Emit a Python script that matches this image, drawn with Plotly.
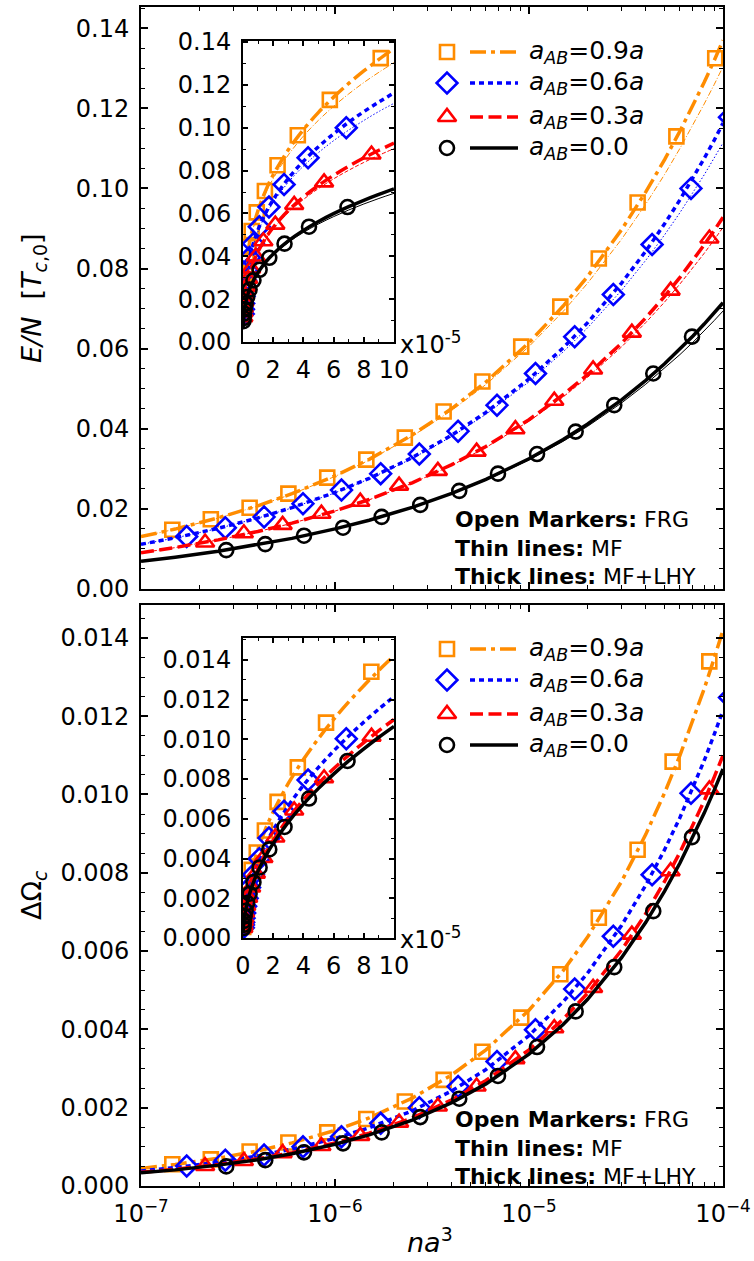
import plotly.graph_objects as go

# ---------------- data ----------------
# x positions (n a^3) of FRG markers
nx_sq = [1.45e-7, 2.29e-7, 3.63e-7, 5.75e-7, 9.12e-7, 1.45e-6, 2.29e-6, 3.63e-6,
         5.75e-6, 9.12e-6, 1.45e-5, 2.29e-5, 3.63e-5, 5.75e-5, 9.12e-5]
nx_sq_b = [1.45e-7, 2.29e-7, 3.63e-7, 5.75e-7, 9.12e-7, 1.45e-6, 2.29e-6, 3.63e-6,
           5.75e-6, 9.12e-6, 1.45e-5, 2.29e-5, 3.63e-5, 5.5e-5, 8.5e-5]
nx_di = [1.72e-7, 2.72e-7, 4.31e-7, 6.84e-7, 1.08e-6, 1.72e-6, 2.72e-6, 4.31e-6,
         6.84e-6, 1.08e-5, 1.72e-5, 2.72e-5, 4.31e-5, 6.84e-5, 1.08e-4]
nx_tr = [2.14e-7, 3.39e-7, 5.37e-7, 8.51e-7, 1.35e-6, 2.14e-6, 3.39e-6, 5.37e-6,
         8.51e-6, 1.35e-5, 2.14e-5, 3.39e-5, 5.37e-5, 8.51e-5]
nx_ci = [2.75e-7, 4.37e-7, 6.92e-7, 1.10e-6, 1.74e-6, 2.75e-6, 4.37e-6, 6.92e-6,
         1.10e-5, 1.74e-5, 2.75e-5, 4.37e-5, 6.92e-5]

# E/N FRG markers
E_frg_09 = [0.0148, 0.0174, 0.0203, 0.0238, 0.0278, 0.0323, 0.0378, 0.0443, 0.0518,
            0.0605, 0.0705, 0.0825, 0.0965, 0.113, 0.1325]
E_frg_06 = [0.0131, 0.0153, 0.018, 0.0213, 0.0247, 0.0288, 0.0337, 0.0394, 0.0459,
            0.0538, 0.063, 0.0735, 0.086, 0.100, 0.1178]
E_frg_03 = [0.0116, 0.0139, 0.016, 0.0188, 0.0218, 0.0258, 0.0295, 0.0343, 0.0399,
            0.047, 0.0548, 0.064, 0.0745, 0.0875]
E_frg_00 = [0.0097, 0.0112, 0.0133, 0.0153, 0.018, 0.021, 0.0245, 0.0288, 0.0337,
            0.0393, 0.0459, 0.0538, 0.063]

# Delta Omega_c FRG markers
W_frg_09 = [0.000555, 0.00068, 0.00088, 0.00111, 0.00137, 0.00171, 0.00216, 0.00271,
            0.00343, 0.00430, 0.00541, 0.00685, 0.00859, 0.01084, 0.0134]
W_frg_06 = [0.00051, 0.00066, 0.00079, 0.00100, 0.00126, 0.0016, 0.0020, 0.00254,
            0.00318, 0.00399, 0.00503, 0.00638, 0.00795, 0.01003, 0.01248]
W_frg_03 = [0.00051, 0.00064, 0.00084, 0.00102, 0.00128, 0.00162, 0.00203, 0.00254,
            0.00324, 0.00403, 0.00506, 0.00642, 0.00804, 0.01013]
W_frg_00 = [0.00050, 0.00066, 0.00086, 0.00109, 0.00137, 0.00176, 0.00223, 0.00281,
            0.00355, 0.00446, 0.00559, 0.00702, 0.00891]

# curves (MF thin, MF+LHY thick)
nx_line = [1e-7, 1.5e-7, 2.5e-7, 4e-7, 6e-7, 1e-6, 1.5e-6, 2.5e-6, 4e-6, 6e-6, 1e-5,
           1.5e-5, 2e-5, 3e-5, 4e-5, 5e-5, 6e-5, 7e-5, 8e-5, 9e-5, 1e-4]
E_mf_09 = [0.01304, 0.01493, 0.01770, 0.02070, 0.02370, 0.02810, 0.03217, 0.03814, 0.04461,
           0.05106, 0.06054, 0.06930, 0.07628, 0.08731, 0.09610, 0.1035, 0.1100, 0.1158,
           0.1211, 0.1259, 0.1304]
E_lhy_09 = [0.01307, 0.01496, 0.01775, 0.02077, 0.02379, 0.02824, 0.03236, 0.03844, 0.04505,
            0.05169, 0.06150, 0.07064, 0.07798, 0.08970, 0.09914, 0.1072, 0.1143, 0.1207,
            0.1265, 0.1319, 0.1370]
E_mf_06 = [0.01114, 0.01275, 0.01512, 0.01768, 0.02024, 0.02400, 0.02747, 0.03257, 0.03810,
           0.04361, 0.05171, 0.05919, 0.06515, 0.07457, 0.08208, 0.08842, 0.09396, 0.09891,
           0.1034, 0.1076, 0.1114]
E_lhy_06 = [0.01116, 0.01277, 0.01515, 0.01773, 0.02031, 0.02411, 0.02762, 0.03280, 0.03843,
            0.04408, 0.05243, 0.06020, 0.06643, 0.07637, 0.08436, 0.09117, 0.09716, 0.1026,
            0.1075, 0.1120, 0.1163]
E_mf_03 = [0.00903, 0.01033, 0.01225, 0.01433, 0.01640, 0.01945, 0.02226, 0.02640, 0.03088,
           0.03534, 0.04190, 0.04797, 0.05280, 0.06044, 0.06652, 0.07165, 0.07615, 0.08016,
           0.08381, 0.08716, 0.09028]
E_lhy_03 = [0.00904, 0.01035, 0.01227, 0.01436, 0.01644, 0.01950, 0.02234, 0.02652, 0.03105,
            0.03559, 0.04227, 0.04849, 0.05346, 0.06136, 0.06770, 0.07307, 0.07780, 0.08204,
            0.08591, 0.08948, 0.09281]
E_mf_00 = [0.00694, 0.00794, 0.00942, 0.01102, 0.01261, 0.01495, 0.01711, 0.02029, 0.02373,
           0.02717, 0.03221, 0.03687, 0.04058, 0.04645, 0.05113, 0.05508, 0.05853, 0.06161,
           0.06442, 0.06700, 0.06939]
E_lhy_00 = [0.00695, 0.00795, 0.00943, 0.01104, 0.01264, 0.01500, 0.01718, 0.02039, 0.02387,
            0.02737, 0.03251, 0.03730, 0.04113, 0.04722, 0.05210, 0.05624, 0.05989, 0.06316,
            0.06615, 0.06890, 0.07147]

W_lhy_09 = [0.000449, 0.000550, 0.000710, 0.000897, 0.001101, 0.001420, 0.001740, 0.002245,
            0.002840, 0.003478, 0.004490, 0.005500, 0.006350, 0.007777, 0.008982, 0.010041,
            0.010999, 0.011881, 0.012700, 0.013472, 0.014200]
W_lhy_06 = [0.000384, 0.000470, 0.000608, 0.000768, 0.000942, 0.001215, 0.001488, 0.001921,
            0.002430, 0.002976, 0.003842, 0.004706, 0.005433, 0.006655, 0.007685, 0.008591,
            0.009411, 0.010166, 0.010867, 0.011527, 0.012150]
W_lhy_03 = [0.000348, 0.000426, 0.000550, 0.000695, 0.000853, 0.001100, 0.001348, 0.001739,
            0.002200, 0.002694, 0.003478, 0.004260, 0.004919, 0.006025, 0.006958, 0.007778,
            0.008521, 0.009204, 0.009838, 0.010436, 0.011000]
W_lhy_00 = [0.000337, 0.000412, 0.000533, 0.000673, 0.000825, 0.001065, 0.001305, 0.001684,
            0.002130, 0.002608, 0.003368, 0.004125, 0.004763, 0.005833, 0.006736, 0.007531,
            0.008249, 0.008911, 0.009525, 0.010104, 0.010650]

legend_labels = ["<i>a</i><sub><i>AB</i></sub>=0.9<i>a</i>",
                 "<i>a</i><sub><i>AB</i></sub>=0.6<i>a</i>",
                 "<i>a</i><sub><i>AB</i></sub>=0.3<i>a</i>",
                 "<i>a</i><sub><i>AB</i></sub>=0.0"]
note_lines = ["<b>Open Markers:</b> FRG", "<b>Thin lines:</b> MF", "<b>Thick lines:</b> MF+LHY"]
decade_ticks = [1e-7, 1e-6, 1e-5, 1e-4]
decade_text = ["10<sup>\u22127</sup>", "10<sup>\u22126</sup>", "10<sup>\u22125</sup>", "10<sup>\u22124</sup>"]
inset_ticks = [0, 2e-5, 4e-5, 6e-5, 8e-5, 1e-4]
inset_text = ["0", "2", "4", "6", "8", "10"]

# ---------------- styles ----------------
W, H = 754, 1261
FONT = "DejaVu Sans"
series = [
    dict(color="#ff8c00", sym="square-open", size=14, dash="16px,5px,4px,5px", tdash="6px,2px,1px,2px",
         nxm=nx_sq, nxm_b=nx_sq_b, E=E_frg_09, Emf=E_mf_09, Elhy=E_lhy_09, Wm=W_frg_09, Wl=W_lhy_09),
    dict(color="#0000ff", sym="diamond-open", size=16, dash="5px,4px", tdash="1.5px,2px",
         nxm=nx_di, nxm_b=nx_di, E=E_frg_06, Emf=E_mf_06, Elhy=E_lhy_06, Wm=W_frg_06, Wl=W_lhy_06),
    dict(color="#ff0000", sym="triangle-up-open", size=16, dash="13px,5.5px", tdash="4px,2px",
         nxm=nx_tr, nxm_b=nx_tr, E=E_frg_03, Emf=E_mf_03, Elhy=E_lhy_03, Wm=W_frg_03, Wl=W_lhy_03),
    dict(color="#000000", sym="circle-open", size=14, dash="solid", tdash="solid",
         nxm=nx_ci, nxm_b=nx_ci, E=E_frg_00, Emf=E_mf_00, Elhy=E_lhy_00, Wm=W_frg_00, Wl=W_lhy_00),
]

fig = go.Figure()


def add_set(xa, ya, s, xm, ym, thin, thick, shape):
    if thin is not None:
        fig.add_trace(go.Scatter(x=nx_line, y=thin, xaxis=xa, yaxis=ya, mode="lines",
                                 line=dict(color=s["color"], width=1, dash=s["tdash"], shape=shape),
                                 showlegend=False, hoverinfo="skip"))
    fig.add_trace(go.Scatter(x=nx_line, y=thick, xaxis=xa, yaxis=ya, mode="lines",
                             line=dict(color=s["color"], width=3.5, dash=s["dash"], shape=shape),
                             showlegend=False, hoverinfo="skip"))
    fig.add_trace(go.Scatter(x=xm, y=ym, xaxis=xa, yaxis=ya, mode="markers",
                             marker=dict(symbol=s["sym"], size=s["size"], color=s["color"],
                                         line=dict(width=2.6, color=s["color"])),
                             showlegend=False))


for s in series:
    add_set("x", "y", s, s["nxm"], s["E"], s["Emf"], s["Elhy"], "linear")
    add_set("x2", "y2", s, s["nxm"], s["E"], s["Emf"], s["Elhy"], "spline")
    add_set("x3", "y3", s, s["nxm_b"], s["Wm"], None, s["Wl"], "linear")
    add_set("x4", "y4", s, s["nxm_b"], s["Wm"], None, s["Wl"], "spline")


def note(x, y, text, size, **kw):
    # annotations placed in a pixel-based overlay axis (x5/y5), so they never push margins
    fig.add_annotation(x=x, y=y, xref="x5", yref="y5", text=text, showarrow=False,
                       font=dict(family=FONT, size=size, color="black"), **kw)


# ---------------- manual legends (pixel overlay axis) ----------------
leg_rows_top = [52, 83, 117, 148]
leg_rows_bot = [649, 680, 714, 745]
for rows in (leg_rows_top, leg_rows_bot):
    for s, yy, lab in zip(series, rows, legend_labels):
        fig.add_trace(go.Scatter(x=[447], y=[yy], xaxis="x5", yaxis="y5", mode="markers",
                                 marker=dict(symbol=s["sym"], size=s["size"], color=s["color"],
                                             line=dict(width=2.6, color=s["color"])),
                                 showlegend=False, hoverinfo="skip"))
        fig.add_trace(go.Scatter(x=[470, 518], y=[yy, yy], xaxis="x5", yaxis="y5", mode="lines",
                                 line=dict(color=s["color"], width=3.5, dash=s["dash"]),
                                 showlegend=False, hoverinfo="skip"))
        note(527, yy, lab, 25, xanchor="left", yanchor="middle")

# three-line note block (one text box per panel)
for yy in (548, 1148):
    note(453, yy, "<br>".join(note_lines), 22, xanchor="left", yanchor="middle", align="left")

for yy in (343, 938):
    note(398, yy, "x10<sup>-5</sup>", 24, xanchor="left", yanchor="middle")

note(33, 298, "<i>E/N</i>  [<i>T</i><sub><i>c</i>,0</sub>]", 27, textangle=-90,
     xanchor="center", yanchor="middle")
note(33, 895, "\u0394\u03a9<sub><i>c</i></sub>", 27, textangle=-90,
     xanchor="center", yanchor="middle")
note(430, 1240, "<i>na</i><sup>3</sup>", 27, xanchor="center", yanchor="middle")

# ---------------- axes ----------------
minor_log = [m * 10 ** e for e in (-7, -6, -5) for m in range(2, 10)]
tickfont = dict(family=FONT, size=24, color="black")
base = dict(showline=True, linewidth=2, linecolor="black", mirror="allticks", ticks="inside",
            ticklen=7, tickwidth=1.5, tickcolor="black", showgrid=False, zeroline=False,
            tickfont=tickfont, ticklabelstandoff=5, automargin=False)

dom_x_main = [141 / W, 723 / W]
dom_x_in = [243 / W, 394 / W]

fig.update_layout(
    width=W, height=H, margin=dict(l=0, r=0, t=0, b=0, pad=0), autosize=False,
    paper_bgcolor="white", plot_bgcolor="rgba(0,0,0,0)", showlegend=False,
    xaxis=dict(base, type="log", range=[-7, -4], domain=dom_x_main, anchor="y",
               tickvals=decade_ticks, showticklabels=False,
               minor=dict(tickvals=minor_log, ticks="inside", ticklen=4, tickcolor="black", tickwidth=1.2)),
    yaxis=dict(base, range=[0, 0.1453], domain=[1 - 589 / H, 1 - 7 / H], anchor="x",
               dtick=0.02, tick0=0, tickformat=".2f",
               minor=dict(dtick=0.005, ticks="inside", ticklen=4, tickcolor="black", tickwidth=1.2)),
    xaxis2=dict(base, range=[0, 1e-4], domain=dom_x_in, anchor="y2",
                tickvals=inset_ticks, ticktext=inset_text, ticklen=5,
                minor=dict(dtick=1e-5, tick0=0, ticks="inside", ticklen=3, tickcolor="black", tickwidth=1)),
    yaxis2=dict(base, range=[0, 0.1405], domain=[1 - 342 / H, 1 - 41 / H], anchor="x2",
                dtick=0.02, tick0=0, tickformat=".2f", ticklen=5,
                minor=dict(dtick=0.01, ticks="inside", ticklen=3, tickcolor="black", tickwidth=1)),
    xaxis3=dict(base, type="log", range=[-7, -4], domain=dom_x_main, anchor="y3",
                tickvals=decade_ticks, ticktext=decade_text,
                minor=dict(tickvals=minor_log, ticks="inside", ticklen=4, tickcolor="black", tickwidth=1.2)),
    yaxis3=dict(base, range=[0, 0.01484], domain=[1 - 1186 / H, 1 - 605 / H], anchor="x3",
                dtick=0.002, tick0=0, tickformat=".3f",
                minor=dict(dtick=0.0005, ticks="inside", ticklen=4, tickcolor="black", tickwidth=1.2)),
    xaxis4=dict(base, range=[0, 1e-4], domain=dom_x_in, anchor="y4",
                tickvals=inset_ticks, ticktext=inset_text, ticklen=5,
                minor=dict(dtick=1e-5, tick0=0, ticks="inside", ticklen=3, tickcolor="black", tickwidth=1)),
    yaxis4=dict(base, range=[0, 0.0151], domain=[1 - 938 / H, 1 - 638 / H], anchor="x4",
                dtick=0.002, tick0=0, tickformat=".3f", ticklen=5,
                minor=dict(dtick=0.001, ticks="inside", ticklen=3, tickcolor="black", tickwidth=1)),
    xaxis5=dict(range=[0, W], domain=[0, 1], anchor="y5", visible=False, fixedrange=True,
                automargin=False),
    yaxis5=dict(range=[H, 0], domain=[0, 1], anchor="x5", visible=False, fixedrange=True,
                automargin=False),
)

fig.write_html("out.html")
